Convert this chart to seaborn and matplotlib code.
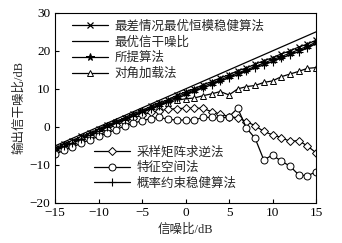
import numpy as np
import pandas as pd
import matplotlib
matplotlib.use("Agg")
import matplotlib.pyplot as plt
import seaborn as sns

# SNR axis (dB)
snr = list(range(-15, 16))

# output SINR (dB) for each method
worst_case = [-5.6, -4.5, -3.6, -2.5, -1.6, -0.6, 0.5, 1.4, 2.4, 3.5, 4.3, 5.4, 6.3, 7.2, 8.3,
              9.2, 10.0, 11.1, 11.9, 12.9, 13.7, 14.8, 15.5, 16.5, 17.4, 18.2, 19.2, 20.0, 21.0, 21.8, 22.8]
optimal = [-5, -4, -3, -2, -1, 0, 1, 2, 3, 4, 5, 6, 7, 8, 9,
           10, 11, 12, 13, 14, 15, 16, 17, 18, 19, 20, 21, 22, 23, 24, 25]
proposed = [-5.9, -4.8, -3.9, -2.8, -1.9, -0.8, 0.2, 1.2, 2.1, 3.1, 4.1, 5.0, 6.0, 6.9, 7.9,
            8.8, 9.7, 10.6, 11.5, 12.4, 13.3, 14.2, 15.0, 15.9, 16.8, 17.7, 18.5, 19.4, 20.3, 21.2, 22.3]
diag_load = [-6.0, -4.9, -3.9, -2.9, -1.9, -0.9, 0.1, 1.0, 2.0, 2.9, 3.8, 4.8, 5.6, 6.4, 7.0,
             7.4, 7.6, 8.2, 8.7, 9.3, 8.4, 10.0, 10.6, 10.9, 11.7, 12.1, 13.2, 13.9, 14.6, 15.4, 15.6]
smi = [-6.3, -5.3, -4.3, -3.3, -2.4, -1.4, -0.5, 0.5, 1.4, 2.3, 3.1, 3.8, 4.3, 4.6, 4.8,
       4.9, 4.9, 4.9, 4.0, 3.4, 2.7, 2.4, 1.4, 0.3, -1.2, -2.1, -2.8, -3.8, -3.6, -5.0, -6.8]
eigen = [-7.2, -6.2, -5.3, -4.3, -3.4, -2.5, -1.6, -0.7, 0.2, 1.0, 1.6, 2.2, 2.5, 2.0, 1.8,
         1.8, 1.8, 2.5, 2.5, 2.3, 2.7, 4.9, -0.3, -3.0, -8.7, -7.4, -9.0, -10.3, -12.6, -12.9, -11.8]
prob_cons = [-6.2, -5.1, -4.2, -3.1, -2.2, -1.2, -0.1, 0.9, 1.8, 2.8, 3.8, 4.7, 5.6, 6.6, 7.5,
             8.4, 9.3, 10.2, 11.1, 12.0, 12.9, 13.7, 14.6, 15.5, 16.3, 17.2, 18.1, 18.9, 19.8, 20.7, 21.9]

labels = ["最差情况最优恒模稳健算法", "最优信干噪比", "所提算法", "对角加载法",
          "采样矩阵求逆法", "特征空间法", "概率约束稳健算法"]

sns.set_theme(style="ticks")
plt.rcParams["font.family"] = ["Liberation Serif", "Noto Sans CJK SC"]

fig = plt.figure(figsize=(3.42, 2.43), dpi=100)
ax = fig.add_axes([0.161, 0.165, 0.763, 0.782])

series = [
    (worst_case, dict(marker="x", markersize=3.8, mew=0.9)),
    (optimal, dict(marker=None)),
    (proposed, dict(marker="*", markersize=5.5, mfc="black")),
    (diag_load, dict(marker="^", markersize=4.8, mfc="white", mew=0.7)),
    (smi, dict(marker="D", markersize=4.0, mfc="white", mew=0.7)),
    (eigen, dict(marker="o", markersize=5.0, mfc="white", mew=0.7)),
    (prob_cons, dict(marker="+", markersize=5.5, mew=0.8)),
]

for (vals, kw), lab in zip(series, labels):
    sns.lineplot(x=snr, y=vals, ax=ax, color="black", linewidth=0.9,
                 mec="black", label=lab, **kw)

ax.set_xlim(-15, 15)
ax.set_ylim(-20, 30)
ax.set_xticks([-15, -10, -5, 0, 5, 10, 15])
ax.set_yticks([-20, -10, 0, 10, 20, 30])
ax.tick_params(direction="in", length=3, width=0.8, labelsize=9.5, colors="black")
ax.tick_params(axis="x", pad=3)
ax.tick_params(axis="y", pad=3.5)
for sp in ax.spines.values():
    sp.set_color("black")
    sp.set_linewidth(0.8)

ax.set_xlabel("信噪比/dB", fontsize=9, labelpad=3)
ax.set_ylabel("输出信干噪比/dB", fontsize=9, labelpad=3)

handles, labs = ax.get_legend_handles_labels()
ax.get_legend().remove()
leg_kw = dict(frameon=False, fontsize=9, handlelength=2.9, handletextpad=0.5,
              labelspacing=0.28, borderaxespad=0.0, borderpad=0.0)
leg1 = ax.legend(handles[:4], labs[:4], loc="upper left",
                 bbox_to_anchor=(0.065, 0.96), **leg_kw)
ax.add_artist(leg1)
ax.legend(handles[4:], labs[4:], loc="lower left",
          bbox_to_anchor=(0.15, 0.07), **leg_kw)

fig.savefig("out.png", dpi=100)
